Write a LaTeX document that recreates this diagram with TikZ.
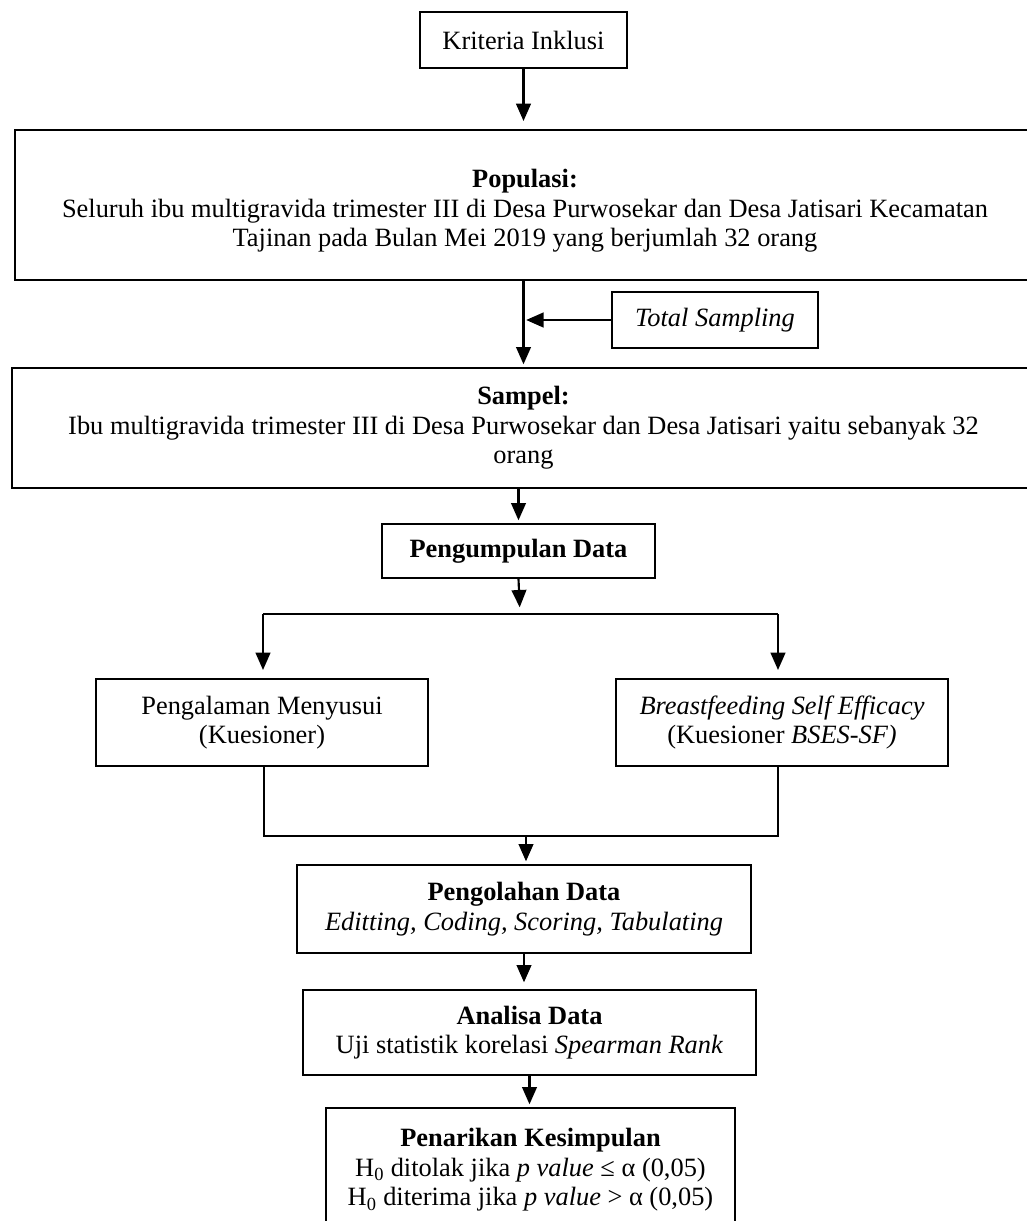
\documentclass[tikz,border=0pt]{standalone}
\usepackage{fontspec}
\setmainfont{Liberation Serif}
\usetikzlibrary{arrows.meta}

\tikzset{
  box/.style={draw, line width=1.5pt, align=center, inner sep=2pt,
    font=\fontsize{19.8}{22.2}\selectfont},
  arr/.style={line width=1.6pt, -{Triangle[length=13pt,width=11pt]}, shorten >=2pt},
  thin/.style={line width=0.8pt}
}

\begin{document}
\begin{tikzpicture}[x=0.75pt,y=0.75pt,yscale=-1,xscale=1]
\useasboundingbox (0,0) rectangle (1027,1221);

%Shape: Rectangle
\node[box, minimum width=155.25pt, minimum height=42pt] (krit) at (523.5,40) {Kriteria Inklusi};
%Shape: Rectangle
\node[box, minimum width=765pt, minimum height=112.5pt] (pop) at (525,205)
  {\rule{0pt}{1.15em}\textbf{Populasi:}\\Seluruh ibu multigravida trimester III di Desa Purwosekar dan Desa Jatisari Kecamatan\\Tajinan pada Bulan Mei 2019 yang berjumlah 32 orang};
%Shape: Rectangle
\node[box, minimum width=154.5pt, minimum height=42pt] (tots) at (715,320) {\textit{Total Sampling}};
%Shape: Rectangle
\node[box, minimum width=767.25pt, minimum height=90pt] (samp) at (523.5,428)
  {\textbf{Sampel:}\\Ibu multigravida trimester III di Desa Purwosekar dan Desa Jatisari yaitu sebanyak 32\\orang};
%Shape: Rectangle
\node[box, minimum width=204.75pt, minimum height=40.5pt] (kump) at (518.5,551) {\textbf{Pengumpulan Data}};
%Shape: Rectangle
\node[box, minimum width=249pt, minimum height=65.25pt] (alam) at (262,722.5) {Pengalaman Menyusui\\(Kuesioner)};
%Shape: Rectangle
\node[box, minimum width=249pt, minimum height=65.25pt] (bses) at (782,722.5) {\textit{Breastfeeding Self Efficacy}\\(Kuesioner \textit{BSES-SF)}};
%Shape: Rectangle
\node[box, minimum width=340.5pt, minimum height=66pt] (olah) at (524,909)
  {\textbf{Pengolahan Data}\\\textit{Editting, Coding, Scoring, Tabulating}};
%Shape: Rectangle
\node[box, minimum width=339.75pt, minimum height=63.75pt] (anal) at (529.5,1032.5)
  {\textbf{Analisa Data}\\Uji statistik korelasi \textit{Spearman Rank}};
%Shape: Rectangle
\node[box, minimum width=306.75pt, minimum height=93pt] (tarik) at (530.5,1170)
  {\textbf{Penarikan Kesimpulan}\\H\textsubscript{0} ditolak jika \textit{p value} ≤ α (0,05)\\H\textsubscript{0} diterima jika \textit{p value} > α (0,05)};

% branch points
\coordinate (split) at (520,614);
\coordinate (splitL) at (263,614);
\coordinate (splitR) at (778,614);
\coordinate (joinL) at (264,836);
\coordinate (joinR) at (778,836);
\coordinate (join) at (526,836);

%Straight Lines
\draw[arr, shorten >=6pt] (krit.south) -- (krit.south |- pop.north);
\draw[arr] (pop.south -| krit.south) -- (samp.north -| krit.south);
\draw[arr] (tots.west) -- (tots.west -| krit.south);
\draw[arr] (samp.south -| kump.north) -- (kump.north);
\draw[arr, shorten >=5pt] (kump.south) -- (split);
\draw[thin] (splitL) -- (splitR);
\draw[arr, shorten >=6pt] (splitL) -- (splitL |- alam.north);
\draw[arr, shorten >=6pt] (splitR) -- (splitR |- bses.north);
\draw[thin] (alam.south -| joinL) -- (joinL) -- (joinR) -- (bses.south -| joinR);
\draw[arr] (join) -- (join |- olah.north);
\draw[arr, shorten >=5pt] (olah.south) -- (olah.south |- anal.north);
\draw[arr] (anal.south) -- (anal.south |- tarik.north);

\end{tikzpicture}
\end{document}
